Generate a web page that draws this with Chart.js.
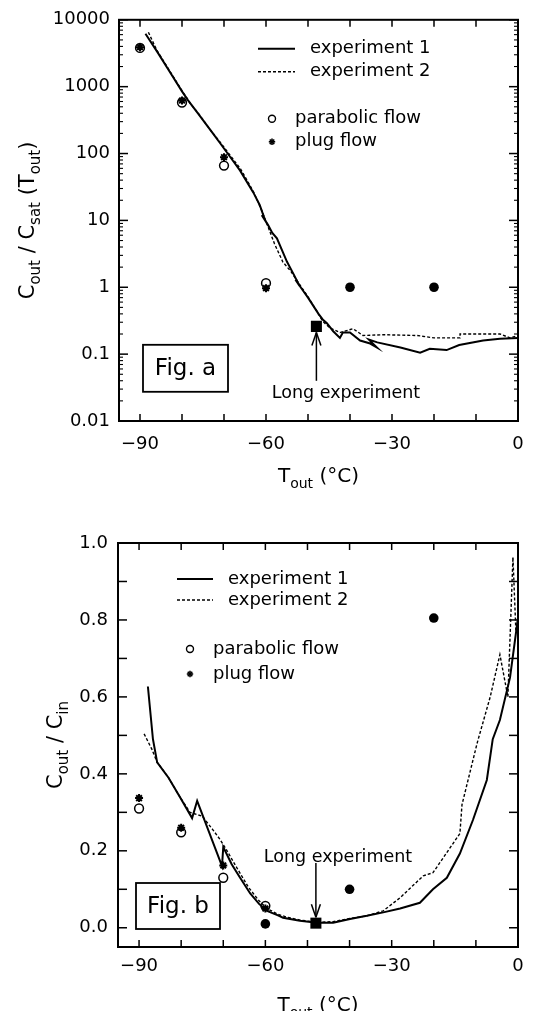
<!DOCTYPE html>
<html>
<head>
<meta charset="utf-8">
<script src="https://cdn.jsdelivr.net/npm/chart.js@4.4.1/dist/chart.umd.min.js"></script>
<style>
  html, body { margin: 0; padding: 0; background: #fff; }
  #wrap { position: relative; width: 538px; height: 1011px; overflow: hidden; }
  canvas { position: absolute; left: 0; }
  #figA { top: 0; }
  #figB { top: 500px; }
</style>
</head>
<body>
<div id="wrap">
  <canvas id="figA" width="538" height="500"></canvas>
  <canvas id="figB" width="538" height="511"></canvas>
</div>
<script>
// ---------- axis ticks ----------
const xTickValues = [-90, -60, -30, 0];
const xTickLabels = ['\u221290', '\u221260', '\u221230', '0'];
const xMinorTicks = [-90, -80, -70, -60, -50, -40, -30, -20, -10, 0];

const logTickValues = [0.01, 0.1, 1, 10, 100, 1000, 10000];
const logTickLabels = ['0.01', '0.1', '1', '10', '100', '1000', '10000'];

const linTickValues = [0, 0.2, 0.4, 0.6, 0.8, 1.0];
const linTickLabels = ['0.0', '0.2', '0.4', '0.6', '0.8', '1.0'];
const linMinorTicks = [0, 0.1, 0.2, 0.3, 0.4, 0.5, 0.6, 0.7, 0.8, 0.9, 1.0];

// ---------- Fig. a : C_out / C_sat(T_out) ----------
const satExp1T = [-88.7, -86, -83, -80, -78.6, -76.2, -73, -71, -68, -66.2, -63, -61.5, -60.2, -61, -59.5, -58.5,
  -57.4, -55, -53.5, -52, -53, -51.5, -50, -48.5, -47.5, -46.5, -45.5, -44, -42.4, -41.7, -40, -37.6, -35.2,
  -33.6, -35.5, -33.5, -28, -23.3, -21, -17, -14, -8.3, -4.3, 0];
const satExp1V = [6200, 3400, 1700, 850, 630, 400, 214, 145, 80, 56, 26, 17, 10, 12, 8.5, 6.5,
  5.4, 2.4, 1.6, 1.05, 1.3, 0.95, 0.7, 0.5, 0.4, 0.33, 0.29, 0.22, 0.175, 0.21, 0.21, 0.16, 0.144,
  0.126, 0.165, 0.15, 0.126, 0.105, 0.12, 0.115, 0.137, 0.16, 0.17, 0.175];

const satExp2T = [-88, -86, -83, -80, -78, -76, -73, -71, -68, -66, -63, -61, -59.5, -58, -56, -54, -52, -50,
  -48, -46.5, -44.8, -42.4, -39.3, -36.9, -32, -24, -20, -13.8, -13.8, -4.3, -1.9, 0];
const satExp2V = [6500, 3500, 1750, 870, 560, 390, 215, 150, 85, 58, 27, 14, 8, 4.5, 2.4, 1.7, 1.1, 0.72,
  0.45, 0.31, 0.247, 0.21, 0.24, 0.19, 0.195, 0.19, 0.175, 0.175, 0.2, 0.2, 0.175, 0.19];

const modelT = [-90, -80, -70, -60];
const satParabolicV = [3800, 580, 66, 1.15];
const satPlugV = [3900, 620, 88, 0.97];

const satFilledT = [-40, -20];
const satFilledV = [1, 1];

const longT = [-48];
const satLongV = [0.26];

// ---------- Fig. b : C_out / C_in ----------
const inExp1T = [-87.9, -86.7, -85.7, -83, -80.3, -77.4, -76.2, -70.3, -70, -68, -66, -63.6, -61.5, -59.6, -57,
  -55.8, -51.8, -47.7, -43.9, -39.9, -35.9, -32, -28, -23.3, -20.2, -16.9, -13.8, -10.7, -7.4, -6, -4.3, -1.9, 0];
const inExp1V = [0.627, 0.49, 0.43, 0.39, 0.34, 0.285, 0.33, 0.16, 0.21, 0.165, 0.13, 0.089, 0.062, 0.044, 0.032,
  0.026, 0.018, 0.013, 0.013, 0.023, 0.031, 0.04, 0.05, 0.065, 0.1, 0.13, 0.193, 0.28, 0.384, 0.49, 0.54, 0.65, 0.806];

const inExp2T = [-88.8, -87, -85.7, -83, -80.3, -77.9, -75, -72.5, -70.8, -69.1, -67, -64, -61.5, -59.6, -57, -55,
  -51.8, -47.7, -43.9, -39.9, -35.9, -32, -28, -22.5, -20.2, -13.8, -13.3, -9.7, -6.6, -4.3, -2.4, -1.2, -0.5, 0];
const inExp2V = [0.504, 0.465, 0.43, 0.39, 0.34, 0.30, 0.29, 0.255, 0.23, 0.2, 0.16, 0.105, 0.07, 0.05, 0.035, 0.028,
  0.02, 0.014, 0.016, 0.024, 0.031, 0.044, 0.078, 0.135, 0.143, 0.245, 0.32, 0.48, 0.6, 0.71, 0.6, 0.963, 0.77, 0.8];

const inParabolicV = [0.31, 0.248, 0.13, 0.057];
const inPlugV = [0.337, 0.26, 0.162, 0.05];

const inFilledT = [-60, -40, -20];
const inFilledV = [0.01, 0.1, 0.805];

const inLongV = [0.012];

// ---------- drawing helpers ----------
const FONT = "'DejaVu Sans', sans-serif";
Chart.defaults.font.family = FONT;
Chart.defaults.font.size = 18;
Chart.defaults.color = '#000';

const pts = (xs, ys) => xs.map((x, i) => ({ x, y: ys[i] }));

function seg(ctx, x1, y1, x2, y2) {
  ctx.beginPath(); ctx.moveTo(x1, y1); ctx.lineTo(x2, y2); ctx.stroke();
}

function drawStar(ctx, x, y, r, lw) {
  ctx.save();
  ctx.lineWidth = lw;
  for (let k = 0; k < 4; k++) {
    const ang = k * Math.PI / 4;
    seg(ctx, x - r * Math.cos(ang), y - r * Math.sin(ang), x + r * Math.cos(ang), y + r * Math.sin(ang));
  }
  ctx.restore();
}

// text with subscripts, centred on x, baseline at y
function richText(ctx, parts, x, y, size) {
  const subSize = Math.round(size * 0.7);
  let total = 0;
  const items = parts.map(p => {
    const fs = p.sub ? subSize : size;
    ctx.font = fs + 'px ' + FONT;
    const w = ctx.measureText(p.t).width;
    total += w;
    return { t: p.t, sub: p.sub, fs, w };
  });
  let cx = x - total / 2;
  ctx.textAlign = 'left';
  ctx.textBaseline = 'alphabetic';
  for (const it of items) {
    ctx.font = it.fs + 'px ' + FONT;
    ctx.fillText(it.t, cx, y + (it.sub ? size * 0.32 : 0));
    cx += it.w;
  }
}

const decor = {
  id: 'decor',
  afterDraw(chart, args, o) {
    const { ctx, chartArea: a, scales } = chart;
    const sx = scales.x, sy = scales.y;
    ctx.save();
    ctx.strokeStyle = '#000';
    ctx.fillStyle = '#000';

    // frame
    ctx.lineWidth = 2;
    ctx.strokeRect(a.left, a.top, a.right - a.left, a.bottom - a.top);

    // tick marks, pointing inward on all four sides
    ctx.lineWidth = 1.5;
    for (const v of o.xMarks) {
      const px = sx.getPixelForValue(v);
      seg(ctx, px, a.bottom, px, a.bottom - 7);
      seg(ctx, px, a.top, px, a.top + 7);
    }
    for (const v of o.yMajor) {
      const py = sy.getPixelForValue(v);
      seg(ctx, a.left, py, a.left + 9, py);
      seg(ctx, a.right, py, a.right - 9, py);
    }
    ctx.lineWidth = 1.1;
    for (const v of o.yMinor) {
      const py = sy.getPixelForValue(v);
      seg(ctx, a.left, py, a.left + 4, py);
      seg(ctx, a.right, py, a.right - 4, py);
    }

    // legend
    const L = o.legend;
    ctx.lineWidth = 2;
    seg(ctx, a.left + L.lineX[0], a.top + L.lineY[0], a.left + L.lineX[1], a.top + L.lineY[0]);
    ctx.lineWidth = 1.4;
    ctx.setLineDash([3, 2]);
    seg(ctx, a.left + L.lineX[0], a.top + L.lineY[1], a.left + L.lineX[1], a.top + L.lineY[1]);
    ctx.setLineDash([]);
    ctx.font = '18px ' + FONT;
    ctx.textAlign = 'left';
    ctx.textBaseline = 'middle';
    ctx.fillText('experiment 1', a.left + L.textX, a.top + L.lineY[0]);
    ctx.fillText('experiment 2', a.left + L.textX, a.top + L.lineY[1]);
    ctx.lineWidth = 1.4;
    ctx.beginPath();
    ctx.arc(a.left + L.markX, a.top + L.markY[0], 3.5, 0, Math.PI * 2);
    ctx.stroke();
    drawStar(ctx, a.left + L.markX, a.top + L.markY[1], 3.2, 1.6);
    ctx.fillText('parabolic flow', a.left + L.markTextX, a.top + L.markY[0]);
    ctx.fillText('plug flow', a.left + L.markTextX, a.top + L.markY[1]);

    // "Fig." label box
    const B = o.figBox;
    ctx.lineWidth = 1.8;
    ctx.strokeRect(a.left + B.x, a.top + B.y, B.w, B.h);
    ctx.font = '23px ' + FONT;
    ctx.textAlign = 'center';
    ctx.textBaseline = 'middle';
    ctx.fillText(B.text, a.left + B.x + B.w / 2, a.top + B.y + B.h / 2 + 1);

    // "Long experiment" note with arrow to the square
    const N = o.note;
    const ax = sx.getPixelForValue(N.t);
    const sqY = sy.getPixelForValue(N.v);
    ctx.font = '17.5px ' + FONT;
    ctx.fillText('Long experiment', a.left + N.textX, a.top + N.textY);
    ctx.lineWidth = 1.5;
    const tip = sqY + N.dir * 6;
    const tail = a.top + N.tailY;
    seg(ctx, ax, tail, ax, tip);
    const hd = N.dir * 13;
    seg(ctx, ax - 4.5, tip + hd, ax, tip);
    seg(ctx, ax + 4.5, tip + hd, ax, tip);

    // axis titles
    richText(ctx, o.xTitle, (a.left + a.right) / 2, o.xTitleBase, 20);
    ctx.translate(o.yTitleX, (a.top + a.bottom) / 2);
    ctx.rotate(-Math.PI / 2);
    richText(ctx, o.yTitle, 0, 7.5, 21);
    ctx.restore();
  }
};

function markerSets(xs, parabolic, plug, filledX, filledY, longY) {
  return [
    { data: pts(longT, longY), pointStyle: 'rect', pointRadius: 7.8, pointBorderWidth: 0,
      pointBackgroundColor: '#000', pointBorderColor: '#000' },
    { data: pts(filledX, filledY), pointStyle: 'circle', pointRadius: 4.8, pointBorderWidth: 0,
      pointBackgroundColor: '#000', pointBorderColor: '#000' },
    { data: pts(xs, parabolic), pointStyle: 'circle', pointRadius: 4.4, pointBorderWidth: 1.5,
      pointBackgroundColor: 'rgba(0,0,0,0)', pointBorderColor: '#000' },
    { data: pts(xs, plug), pointStyle: 'star', pointRadius: 4, pointBorderWidth: 2,
      pointBackgroundColor: '#000', pointBorderColor: '#000' }
  ];
}

function lineSets(t1, v1, t2, v2) {
  return [
    { data: pts(t2, v2), showLine: true, pointRadius: 0, borderColor: '#000', borderWidth: 1.4,
      borderDash: [3, 2], tension: 0 },
    { data: pts(t1, v1), showLine: true, pointRadius: 0, borderColor: '#000', borderWidth: 2, tension: 0 }
  ];
}

function xScale(height, pad) {
  return {
    type: 'linear', min: -95, max: 0,
    grid: { display: false, drawTicks: false }, border: { display: false },
    afterBuildTicks: s => { s.ticks = xTickValues.map(v => ({ value: v })); },
    afterFit: s => { s.height = height; },
    ticks: { autoSkip: false, maxRotation: 0, padding: pad,
      callback: (v, i) => xTickLabels[i] }
  };
}

const xTitle = [{ t: 'T' }, { t: 'out', sub: true }, { t: ' (\u00B0C)' }];

// ---------- Fig. a ----------
new Chart(document.getElementById('figA'), {
  type: 'scatter',
  data: {
    datasets: [
      ...markerSets(modelT, satParabolicV, satPlugV, satFilledT, satFilledV, satLongV),
      ...lineSets(satExp1T, satExp1V, satExp2T, satExp2V)
    ]
  },
  options: {
    responsive: false, animation: false, events: [],
    layout: { padding: { top: 16, right: 20, left: 0, bottom: 0 } },
    scales: {
      x: xScale(79, 13),
      y: {
        type: 'logarithmic', min: 0.01, max: 10000,
        grid: { display: false, drawTicks: false }, border: { display: false },
        afterBuildTicks: s => { s.ticks = logTickValues.map(v => ({ value: v })); },
        afterFit: s => { s.width = 119; },
        ticks: { autoSkip: false, padding: 9, callback: (v, i) => logTickLabels[i] }
      }
    },
    plugins: {
      legend: { display: false }, tooltip: { enabled: false },
      decor: {
        xMarks: xMinorTicks,
        yMajor: logTickValues,
        yMinor: [0.01, 0.1, 1, 10, 100, 1000].flatMap(d => [2, 3, 4, 5, 6, 7, 8, 9].map(k => d * k)),
        legend: { lineX: [139, 176], lineY: [29, 52], textX: 191, markX: 153, markY: [99, 122], markTextX: 176 },
        figBox: { x: 24, y: 325, w: 85, h: 47, text: 'Fig. a' },
        note: { t: -48, v: 0.26, dir: 1, textX: 227, textY: 374, tailY: 361 },
        xTitle: xTitle, xTitleBase: 482,
        yTitle: [{ t: 'C' }, { t: 'out', sub: true }, { t: ' / C' }, { t: 'sat', sub: true },
                 { t: ' (T' }, { t: 'out', sub: true }, { t: ')' }],
        yTitleX: 26
      }
    }
  },
  plugins: [decor]
});

// ---------- Fig. b ----------
new Chart(document.getElementById('figB'), {
  type: 'scatter',
  data: {
    datasets: [
      ...markerSets(modelT, inParabolicV, inPlugV, inFilledT, inFilledV, inLongV),
      ...lineSets(inExp1T, inExp1V, inExp2T, inExp2V)
    ]
  },
  options: {
    responsive: false, animation: false, events: [],
    layout: { padding: { top: 43, right: 20, left: 0, bottom: 0 } },
    scales: {
      x: xScale(64, 9),
      y: {
        type: 'linear', min: -0.05, max: 1.0,
        grid: { display: false, drawTicks: false }, border: { display: false },
        afterBuildTicks: s => { s.ticks = linTickValues.map(v => ({ value: v })); },
        afterFit: s => { s.width = 118; },
        ticks: { autoSkip: false, padding: 10, callback: (v, i) => linTickLabels[i] }
      }
    },
    plugins: {
      legend: { display: false }, tooltip: { enabled: false },
      decor: {
        xMarks: xMinorTicks,
        yMajor: linMinorTicks,
        yMinor: [],
        legend: { lineX: [59, 95], lineY: [36, 57], textX: 110, markX: 72, markY: [106, 131], markTextX: 95 },
        figBox: { x: 18, y: 340, w: 84, h: 46, text: 'Fig. b' },
        note: { t: -48, v: 0.012, dir: -1, textX: 220, textY: 314, tailY: 320 },
        xTitle: xTitle, xTitleBase: 511,
        yTitle: [{ t: 'C' }, { t: 'out', sub: true }, { t: ' / C' }, { t: 'in', sub: true }],
        yTitleX: 54
      }
    }
  },
  plugins: [decor]
});
</script>
</body>
</html>
